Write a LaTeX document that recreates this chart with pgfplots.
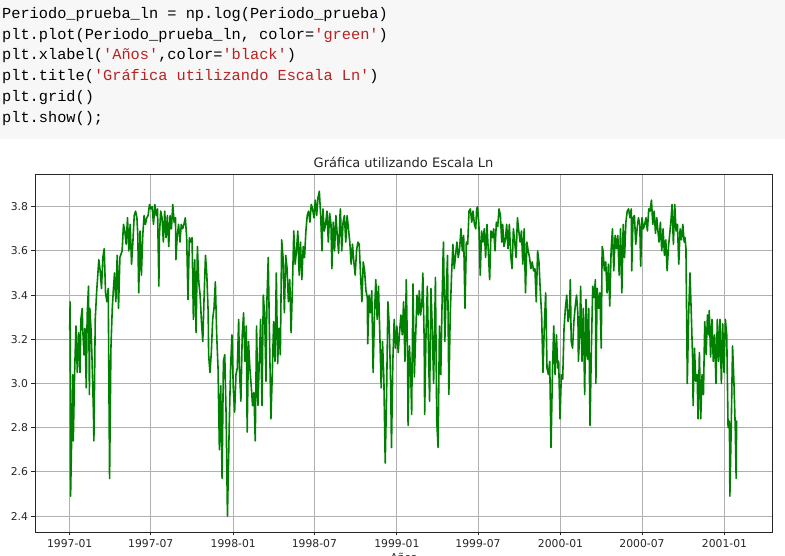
\documentclass[border=0pt]{standalone}
\usepackage{pgfplots}
\usepackage{pgfplotstable}
\pgfplotsset{compat=1.18}
\usepackage{fontspec}
\setmainfont{DejaVu Sans}
\newfontfamily\codefont{Liberation Mono}
\definecolor{strred}{HTML}{BA2121}
\definecolor{codebg}{HTML}{F7F7F7}
\definecolor{mplgreen}{HTML}{008000}
\definecolor{gridgray}{HTML}{B0B0B0}
\definecolor{txtgray}{HTML}{262626}

\pgfplotstableread{
d v
0 3.24
1 3.37
2 2.49
7 3.04
8 2.74
11 3.05
14 3.26
17 3.05
20 3.23
23 3.05
25 3.29
28 3.34
29 3.25
32 3.13
34 3.25
37 2.98
39 3.31
42 3.44
44 2.95
45 3.34
48 3.23
50 3.10
53 2.87
54 2.74
57 3.29
60 3.41
65 3.56
68 3.51
71 3.43
74 3.57
77 3.61
80 3.41
83 3.37
86 3.43
89 2.57
92 3.16
95 3.34
97 3.41
100 3.50
103 3.37
106 3.58
109 3.34
112 3.57
117 3.60
120 3.72
123 3.69
126 3.63
129 3.75
132 3.60
135 3.72
138 3.54
141 3.64
144 3.76
147 3.78
150 3.75
152 3.67
154 3.41
157 3.69
160 3.49
163 3.67
166 3.76
169 3.72
172 3.75
175 3.76
178 3.81
181 3.79
184 3.80
187 3.72
190 3.81
193 3.76
196 3.79
199 3.44
200 3.66
203 3.78
206 3.75
209 3.64
212 3.78
215 3.66
218 3.76
221 3.62
224 3.76
227 3.70
230 3.81
233 3.73
236 3.75
237 3.56
240 3.67
243 3.72
246 3.64
249 3.72
252 3.70
255 3.72
258 3.75
261 3.66
264 3.38
267 3.66
270 3.64
273 3.66
276 3.29
279 3.56
282 3.23
285 3.62
288 3.46
291 3.40
294 3.28
297 3.19
300 3.40
303 3.58
306 3.49
309 3.32
310 3.13
313 3.05
316 3.14
319 3.29
322 3.34
325 3.46
328 3.22
331 3.07
334 2.70
337 2.99
340 2.57
343 3.10
346 3.13
349 2.86
352 2.40
356 2.81
359 3.07
362 3.22
365 2.98
368 2.87
371 3.04
374 3.07
377 3.29
379 3.05
382 2.92
385 3.22
388 3.32
391 3.10
394 3.26
396 2.78
399 3.19
402 3.07
405 2.99
408 2.90
411 2.96
414 2.74
417 3.26
420 2.90
423 3.10
426 3.29
429 2.90
432 3.40
435 3.31
438 3.01
440 3.37
443 3.57
446 3.19
449 2.84
452 3.04
455 3.28
458 3.10
461 3.50
464 3.09
467 3.25
470 3.13
473 3.65
476 3.57
479 3.32
482 3.58
485 3.52
488 3.37
491 3.47
494 3.23
497 3.44
500 3.69
503 3.54
506 3.60
509 3.69
512 3.49
515 3.64
518 3.47
521 3.62
524 3.57
527 3.69
530 3.76
533 3.78
536 3.73
539 3.81
542 3.79
545 3.75
548 3.83
551 3.76
554 3.84
557 3.87
560 3.76
563 3.60
565 3.79
568 3.69
571 3.72
574 3.78
577 3.64
580 3.77
583 3.72
585 3.52
588 3.73
591 3.60
594 3.76
597 3.67
600 3.59
603 3.76
604 3.79
607 3.60
610 3.73
613 3.76
616 3.64
619 3.76
622 3.70
625 3.64
628 3.54
631 3.63
634 3.55
637 3.49
640 3.60
643 3.64
646 3.63
649 3.49
652 3.37
655 3.55
658 3.51
661 3.42
664 3.39
665 3.18
668 3.40
671 3.32
674 3.42
677 3.05
680 3.31
683 3.47
686 3.29
689 3.44
692 3.22
695 2.98
698 3.19
701 3.02
704 2.64
707 2.94
710 3.37
713 3.26
716 3.01
718 2.71
721 3.10
724 3.29
727 3.16
730 3.26
733 3.14
736 3.23
739 3.31
742 3.22
745 3.37
748 3.10
751 3.47
754 3.10
755 2.81
758 3.17
761 3.04
763 2.86
766 3.45
769 3.03
772 3.22
775 3.40
778 3.31
780 3.42
783 3.31
786 3.37
788 3.50
791 3.19
792 2.86
795 3.22
798 3.44
801 3.10
803 2.92
806 3.43
809 3.25
812 3.00
815 3.34
816 3.48
819 2.83
822 2.71
825 3.26
828 3.04
831 3.38
833 3.57
834 3.64
837 3.19
840 3.41
843 3.58
846 2.95
849 3.31
852 3.49
855 3.63
858 3.52
861 3.58
864 3.64
867 3.57
870 3.61
873 3.70
876 3.60
879 3.67
882 3.34
885 3.64
888 3.63
891 3.78
894 3.79
897 3.73
900 3.78
903 3.72
906 3.70
908 3.79
910 3.80
913 3.72
916 3.49
919 3.69
922 3.64
925 3.70
928 3.57
931 3.72
934 3.60
937 3.47
940 3.69
943 3.66
946 3.70
949 3.60
952 3.73
955 3.71
958 3.79
961 3.76
964 3.64
966 3.72
969 3.62
972 3.65
975 3.72
978 3.61
981 3.72
984 3.58
987 3.52
990 3.70
993 3.64
996 3.57
999 3.75
1002 3.69
1005 3.64
1008 3.69
1011 3.54
1014 3.70
1017 3.41
1020 3.64
1023 3.60
1026 3.57
1029 3.52
1032 3.55
1035 3.51
1038 3.52
1041 3.37
1044 3.60
1047 3.55
1050 3.42
1053 3.31
1056 3.05
1059 3.26
1062 3.41
1065 3.07
1068 3.04
1071 3.10
1074 2.71
1077 3.04
1080 3.26
1083 3.04
1086 3.22
1089 3.07
1091 3.10
1094 2.84
1097 3.04
1100 3.02
1103 3.25
1106 3.34
1109 3.40
1112 3.28
1115 3.31
1117 3.47
1119 3.19
1122 3.16
1125 3.28
1128 3.35
1131 3.40
1134 3.31
1135 3.10
1138 3.23
1140 3.44
1143 3.10
1146 3.34
1149 2.95
1152 3.38
1155 3.11
1158 3.34
1161 2.81
1164 3.16
1167 3.44
1170 3.39
1173 3.47
1174 3.00
1177 3.43
1180 3.34
1183 3.41
1186 3.16
1188 3.62
1190 3.60
1193 3.51
1196 3.55
1199 3.41
1202 3.54
1205 3.35
1208 3.60
1211 3.70
1214 3.51
1217 3.67
1220 3.61
1223 3.67
1226 3.49
1229 3.70
1232 3.41
1235 3.72
1238 3.57
1241 3.73
1244 3.78
1247 3.79
1250 3.75
1253 3.79
1254 3.51
1257 3.75
1260 3.76
1263 3.63
1266 3.70
1269 3.75
1272 3.72
1274 3.53
1277 3.75
1280 3.70
1283 3.72
1286 3.75
1289 3.69
1292 3.79
1295 3.78
1298 3.83
1301 3.72
1304 3.78
1307 3.68
1310 3.75
1312 3.70
1315 3.64
1318 3.73
1321 3.60
1324 3.70
1327 3.58
1330 3.65
1333 3.51
1336 3.62
1339 3.68
1342 3.75
1344 3.81
1347 3.63
1350 3.81
1353 3.69
1356 3.72
1359 3.54
1362 3.70
1365 3.65
1368 3.72
1371 3.64
1373 3.66
1375 3.61
1378 3.00
1381 3.31
1384 3.50
1387 3.31
1390 3.10
1391 2.90
1394 3.16
1397 3.01
1400 3.04
1402 2.84
1405 3.14
1408 2.84
1411 3.04
1414 2.95
1417 3.28
1420 3.13
1423 3.31
1426 3.22
1427 3.33
1430 3.12
1433 3.29
1436 3.10
1439 3.22
1442 3.00
1445 3.29
1448 3.10
1451 3.29
1454 3.00
1457 3.27
1460 3.05
1463 3.29
1466 3.22
1469 2.80
1472 2.83
1473 2.49
1476 2.80
1479 3.17
1482 3.01
1485 2.80
1487 2.57
1488 2.83
1490 2.83
}\serie

\begin{document}
\begin{tikzpicture}
\fill[white] (0,0) rectangle (785pt,556pt);
\fill[codebg] (0,417pt) rectangle (785pt,556pt);
\begin{scope}[every node/.style={anchor=base west, inner sep=0pt}]
\def\cf{\codefont\fontsize{15.3}{18}\selectfont}
\node at (2pt,537.7pt) {\cf Periodo\_prueba\_ln = np.log(Periodo\_prueba)};
\node at (2pt,516.9pt) {\cf plt.plot(Periodo\_prueba\_ln, color={\color{strred}'green'})};
\node at (2pt,496.1pt) {\cf plt.xlabel({\color{strred}'Años'},color={\color{strred}'black'})};
\node at (2pt,475.3pt) {\cf plt.title({\color{strred}'Gráfica utilizando Escala Ln'})};
\node at (2pt,454.5pt) {\cf plt.grid()};
\node at (2pt,433.7pt) {\cf plt.show();};
\end{scope}
\begin{axis}[
  at={(35pt,24pt)}, anchor=south west,
  width=737pt, height=358pt, scale only axis,
  xmin=-77.4, xmax=1567, ymin=2.328, ymax=3.948,
  xtick={0,181,365,546,730,911,1095,1277,1461},
  xticklabels={1997-01,1997-07,1998-01,1998-07,1999-01,1999-07,2000-01,2000-07,2001-01},
  ytick={2.4,2.6,2.8,3.0,3.2,3.4,3.6,3.8},
  yticklabel style={/pgf/number format/fixed, /pgf/number format/fixed zerofill, /pgf/number format/precision=1, /pgf/number format/assume math mode=true},
  tick label style={font=\fontsize{10.8}{12}\selectfont, text=txtgray},
  tick align=outside, major tick length=3.5pt,
  xtick pos=bottom, ytick pos=left,
  tick style={line width=0.8pt, color=txtgray},
  grid=major, grid style={line width=0.8pt, color=gridgray},
  axis line style={line width=0.8pt, color=txtgray},
  clip=true,
]
\addplot[mplgreen, line width=1.6pt, line join=round] table[x=d,y=v]{\serie};
\end{axis}
\node[anchor=base, font=\fontsize{13}{15}\selectfont, text=txtgray] at (403.5pt,388pt) {Gráfica utilizando Escala Ln};
\node[anchor=north, font=\fontsize{10.8}{12}\selectfont, text=txtgray, inner sep=0pt] at (403.5pt,3.5pt) {Años};
\pgfresetboundingbox
\useasboundingbox (0,0) rectangle (785pt,556pt);
\end{tikzpicture}
\end{document}
